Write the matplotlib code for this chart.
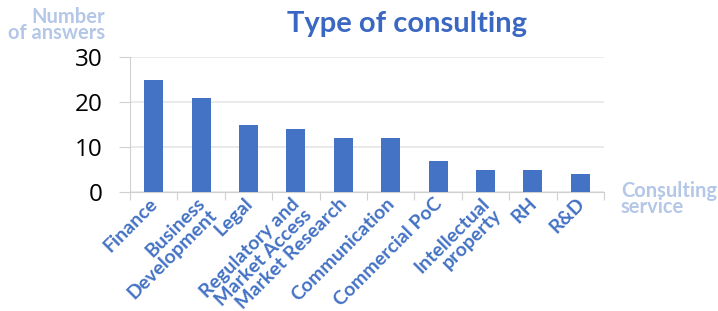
import matplotlib.pyplot as plt
import numpy as np

categories = ['Finance', 'Business\nDevelopment', 'Legal', 'Regulatory and\nMarket Access',
              'Market Research', 'Communication', 'Commercial PoC', 'Intellectual\nproperty',
              'RH', 'R&D']
answers = [25, 21, 15, 14, 12, 12, 7, 5, 5, 4]
yticks = [0, 10, 20, 30]

BLUE = '#4472c4'
TITLE_BLUE = '#3a67c2'
LIGHT = '#b4c7e7'
GRID = '#d0d0d0'

fig = plt.figure(figsize=(7.18, 3.11), dpi=100)
ax = fig.add_axes([130 / 718, 1 - 192 / 311, 474 / 718, 135 / 311])

x = np.arange(len(categories))
ax.bar(x, answers, width=0.4, color=BLUE, zorder=3)

ax.set_xlim(-0.5, len(categories) - 0.5)
ax.set_ylim(0, 30)
ax.set_yticks(yticks)
ax.set_yticklabels([str(v) for v in yticks], fontsize=17.5, color='black', family='Open Sans')
ax.tick_params(axis='y', length=8, color=GRID, pad=12)
ax.yaxis.grid(True, color='#e6e6e6', linewidth=1.2, zorder=0)

# category boundaries carry the ticks
ax.set_xticks(np.arange(len(categories) + 1) - 0.5)
ax.set_xticklabels([])
ax.tick_params(axis='x', length=6, color=GRID)
for xi, lab in zip(x, categories):
    ax.text(xi - 0.1, -0.6, lab, rotation=45, ha='right', va='top', rotation_mode='anchor',
            fontsize=14, fontweight='bold', color=BLUE, family='Lato', multialignment='right',
            linespacing=0.95)

for s in ['top', 'right']:
    ax.spines[s].set_visible(False)
ax.spines['left'].set_color(GRID)
ax.spines['bottom'].set_color(GRID)

fig.text(407 / 718, 1 - 24 / 311, 'Type of consulting', ha='center', va='center',
         fontsize=21, fontweight='bold', color=TITLE_BLUE, family='Lato')
fig.text(105 / 718, 1 - 25 / 311, 'Number\nof answers', ha='right', va='center',
         fontsize=14.5, fontweight='bold', color=LIGHT, family='Lato', linespacing=0.75)
fig.text(621 / 718, 1 - 199 / 311, 'Consulting\nservice', ha='left', va='center',
         fontsize=14.5, fontweight='bold', color=LIGHT, family='Lato', linespacing=0.75)

fig.savefig('out.png', dpi=100)
